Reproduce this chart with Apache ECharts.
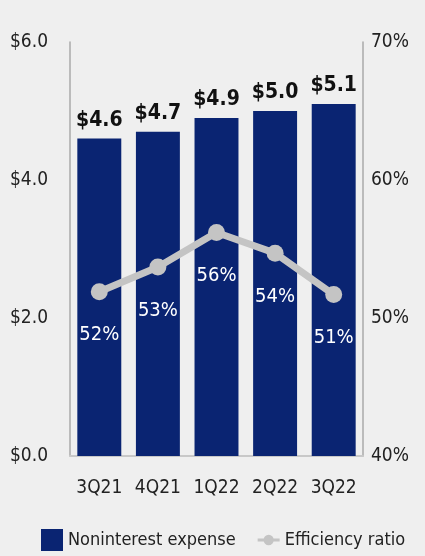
<!DOCTYPE html>
<html><head><meta charset="utf-8">
<script src="https://cdn.jsdelivr.net/npm/echarts@6/dist/echarts.min.js"></script>
<style>html,body{margin:0;padding:0;background:#efefef;}#c{width:425px;height:556px;}</style>
</head><body><div id="c"></div>
<script>
const categories = ['3Q21','4Q21','1Q22','2Q22','3Q22'];
const expense = [4.6, 4.7, 4.9, 5.0, 5.1];
const efficiency = [51.9, 53.7, 56.2, 54.7, 51.7];
const efficiencyLabels = ['52%','53%','56%','54%','51%'];
const FONT = '"DejaVu Sans Condensed","Liberation Sans Narrow","Open Sans",sans-serif';
const chart = echarts.init(document.getElementById('c'));
chart.setOption({
  backgroundColor: '#efefef',
  textStyle: {fontFamily: FONT},
  animation: false,
  grid: {left: 70, right: 62, top: 42, bottom: 100},
  legend: {
    bottom: 0, left: 36, itemGap: 22, itemWidth: 22, itemHeight: 22,
    textStyle: {fontFamily: FONT, fontSize: 18, color: '#222'},
    data: [
      {name: 'Noninterest expense', icon: 'rect'},
      {name: 'Efficiency ratio', icon: 'path://M0,9L30,9L30,13L0,13Z M15,4A7,7 0 1,1 15,18A7,7 0 1,1 15,4Z'}
    ]
  },
  xAxis: {
    type: 'category', data: categories,
    axisLine: {show: true, lineStyle: {color: '#c8c8c8', width: 2}},
    axisTick: {show: false},
    axisLabel: {interval: 0, fontFamily: FONT, fontSize: 19, color: '#222', margin: 23}
  },
  yAxis: [{
    type: 'value', min: 0, max: 6, interval: 2, position: 'left',
    axisLine: {show: true, lineStyle: {color: '#aaaaaa', width: 1.5}},
    axisTick: {show: false}, splitLine: {show: false},
    axisLabel: {fontFamily: FONT, fontSize: 19, color: '#222', margin: 22, formatter: v => '$' + v.toFixed(1)}
  }, {
    type: 'value', min: 40, max: 70, interval: 10, position: 'right',
    axisLine: {show: true, lineStyle: {color: '#aaaaaa', width: 1.5}},
    axisTick: {show: false}, splitLine: {show: false},
    axisLabel: {fontFamily: FONT, fontSize: 19, color: '#222', margin: 8, formatter: v => v + '%'}
  }],
  series: [{
    name: 'Noninterest expense', type: 'bar', data: expense, barWidth: '75%',
    itemStyle: {color: '#0a2472'},
    label: {show: true, position: 'top', distance: 8, fontFamily: FONT, fontSize: 21, fontWeight: 'bold', color: '#111',
      formatter: p => '$' + p.value.toFixed(1)}
  }, {
    name: 'Efficiency ratio', type: 'line', yAxisIndex: 1, data: efficiency,
    symbol: 'circle', symbolSize: 17,
    lineStyle: {color: '#c4c4c4', width: 7},
    itemStyle: {color: '#c4c4c4'},
    label: {show: true, position: 'bottom', distance: 25, fontFamily: FONT, fontSize: 20, color: '#ffffff',
      formatter: p => efficiencyLabels[p.dataIndex]}
  }]
});
</script></body></html>
